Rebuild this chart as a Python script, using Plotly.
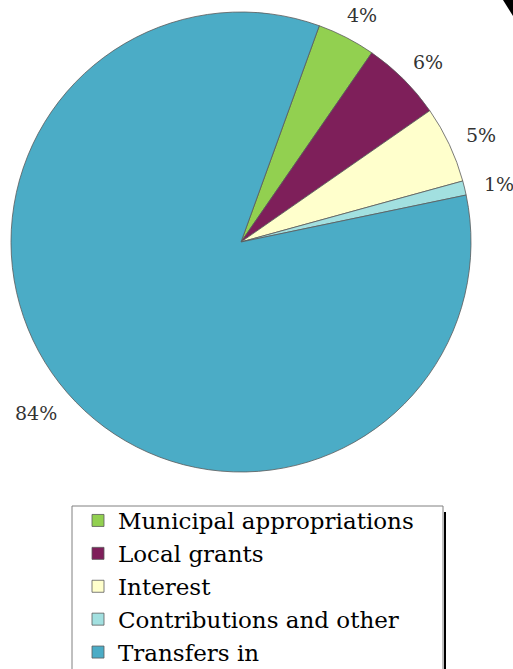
import math
import plotly.graph_objects as go

# Revenue sources (share of total, %)
labels = ["Municipal appropriations", "Local grants", "Interest",
          "Contributions and other", "Transfers in"]
values = [4.1, 5.7, 5.4, 1.0, 83.8]
colors = ["#92D050", "#7E1F5A", "#FFFFCC", "#A2E0E0", "#4BACC6"]

W, H = 513, 669
START_DEG = 19.9           # first slice starts this far clockwise from 12 o'clock
CX, CY, R = 241, 242, 230  # pie centre and radius, px
LABEL_GAP = 20             # gap between the rim and the nearest edge of a label
LABEL_SIZE = 19
# approximate advance widths (em) of the label glyphs in DejaVu Serif
GLYPH_EM = {"%": 0.95}

fig = go.Figure(go.Pie(
    labels=labels,
    values=values,
    sort=False,
    direction="clockwise",
    rotation=START_DEG,
    marker=dict(colors=colors, line=dict(color="#5a5a5a", width=0.8)),
    textinfo="none",
    domain=dict(x=[(CX - R) / W, (CX + R) / W],
                y=[1 - (CY + R) / H, 1 - (CY - R) / H]),
    hoverinfo="label+percent",
))

# Percentage labels outside each slice, pushed off the rim along the mid-angle
total = sum(values)
angle = START_DEG
for v in values:
    sweep = 360 * v / total
    mid = math.radians(angle + sweep / 2)
    angle += sweep
    text = f"{round(100 * v / total)}%"
    w = sum(GLYPH_EM.get(ch, 0.636) for ch in text) * LABEL_SIZE
    h = 0.8 * LABEL_SIZE
    s, c = math.sin(mid), math.cos(mid)
    r = R + LABEL_GAP
    px = CX + r * s + (w / 2) * s
    py = CY - r * c - (h / 2) * c
    fig.add_annotation(
        x=px / W, y=1 - py / H, xref="paper", yref="paper",
        text=text, showarrow=False,
        xanchor="center", yanchor="middle", yshift=-2,
        font=dict(family="DejaVu Serif", size=LABEL_SIZE, color="#333333"),
    )

# Legend frame (extends past the bottom edge) and its dark right-side shadow
fig.add_shape(type="rect", xref="paper", yref="paper",
              x0=72 / W, x1=443 / W, y0=-0.05, y1=1 - 506 / H,
              line=dict(color="#808080", width=1), fillcolor="rgba(0,0,0,0)")
fig.add_shape(type="line", xref="paper", yref="paper",
              x0=445 / W, x1=445 / W, y0=-0.05, y1=1 - 512 / H,
              line=dict(color="#000000", width=2))
# Dark corner in the top right
fig.add_shape(type="path", xref="paper", yref="paper",
              path=f"M {503 / W},1 L 1,1 L 1,{1 - 16 / H} Z",
              fillcolor="#000000", line=dict(width=0))

fig.update_layout(
    width=W, height=H,
    margin=dict(l=0, r=0, t=0, b=0, autoexpand=False),
    paper_bgcolor="white",
    showlegend=True,
    legend=dict(
        x=78 / W, xanchor="left",
        y=-5 / H, yanchor="bottom",
        font=dict(family="DejaVu Serif", size=23, color="#000000"),
        bgcolor="rgba(0,0,0,0)",
        borderwidth=0,
        itemwidth=30,
        tracegroupgap=0,
    ),
)

fig.write_html("out.html")
